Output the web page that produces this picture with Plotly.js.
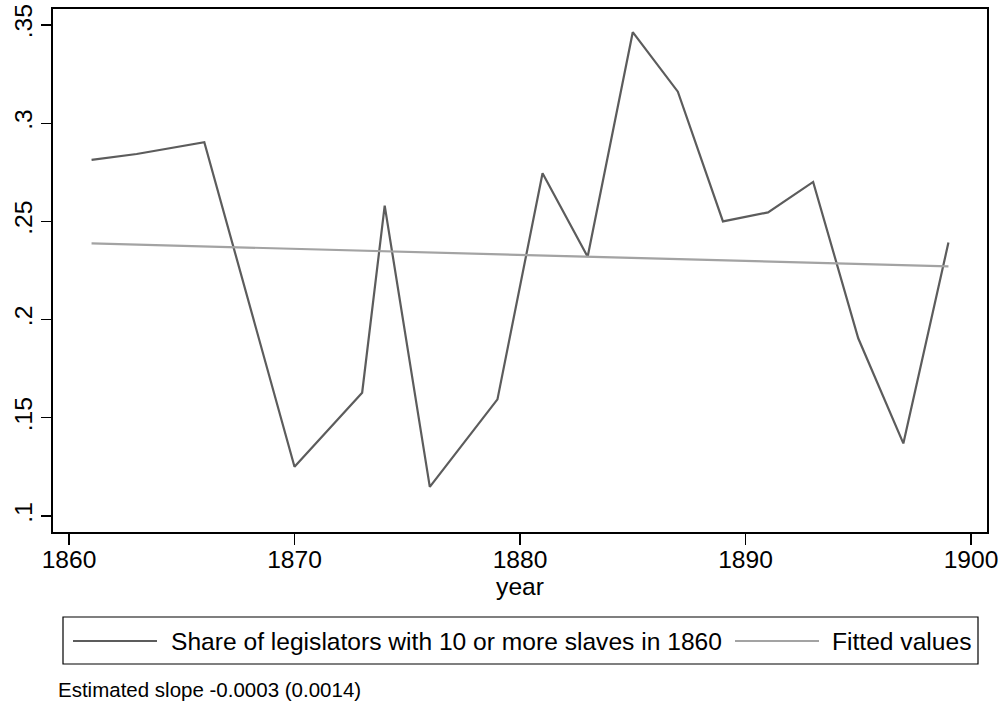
<!DOCTYPE html>
<html>
<head>
<meta charset="utf-8">
<script src="https://cdn.plot.ly/plotly-3.0.1.min.js"></script>
<style>html,body{margin:0;padding:0;background:#fff;}#chart{width:1005px;height:704px;}</style>
</head>
<body>
<div id="chart"></div>
<script>
const years = [1861, 1863, 1866, 1870, 1873, 1874, 1876, 1879, 1881, 1883, 1885, 1887, 1889, 1891, 1893, 1895, 1897, 1899];
const shareValues = [0.2813, 0.2843, 0.2903, 0.1251, 0.1628, 0.2580, 0.1149, 0.1594, 0.2745, 0.2320, 0.3463, 0.3160, 0.2500, 0.2546, 0.2701, 0.1905, 0.1370, 0.2392];
const fittedYears = [1861, 1899];
const fittedValues = [0.2388, 0.2271];
const yTickVals = [0.1, 0.15, 0.2, 0.25, 0.3, 0.35];
const yTickText = ['.1', '.15', '.2', '.25', '.3', '.35'];
const xTickVals = [1860, 1870, 1880, 1890, 1900];
const seriesNames = ['Share of legislators with 10 or more slaves in 1860', 'Fitted values'];
const noteText = 'Estimated slope -0.0003 (0.0014)';

const FONT = 'Liberation Sans, Arial, Helvetica, sans-serif';
const darkLine = '#5c5c5c';
const lightLine = '#a3a3a3';
const FS = 24.6;

const L = 53, R = 18, T = 9, B = 172;
const W = 1005, H = 704;
const pw = W - L - R, ph = H - T - B;
const px = x => (x - L) / pw;
const py = y => (H - B - y) / ph;

const traces = [
  {x: years, y: shareValues, type: 'scatter', mode: 'lines', name: seriesNames[0],
   line: {color: darkLine, width: 2.2}, showlegend: false, hoverinfo: 'x+y'},
  {x: fittedYears, y: fittedValues, type: 'scatter', mode: 'lines', name: seriesNames[1],
   line: {color: lightLine, width: 2.2}, showlegend: false, hoverinfo: 'x+y'}
];

const layout = {
  width: W, height: H,
  margin: {l: L, r: R, t: T, b: B},
  paper_bgcolor: '#ffffff', plot_bgcolor: '#ffffff',
  font: {family: FONT, color: '#000', size: FS},
  showlegend: false,
  xaxis: {
    range: [1859.29, 1900.71], tickvals: xTickVals, ticks: 'outside', ticklen: 11, tickwidth: 1.2,
    tickcolor: '#000', showgrid: false, zeroline: false, showline: true, linecolor: '#000',
    linewidth: 1.6, mirror: true, tickfont: {size: FS, family: FONT}, ticklabelstandoff: -6,
    title: {text: 'year', font: {size: FS, family: FONT}, standoff: 4}
  },
  yaxis: {
    range: [0.0919, 0.3581], tickvals: yTickVals, ticktext: yTickText, ticks: 'outside', ticklen: 10,
    tickwidth: 1.2, tickcolor: '#000', showgrid: false, zeroline: false, showline: true,
    linecolor: '#000', linewidth: 1.6, mirror: true, tickangle: -90,
    tickfont: {size: FS, family: FONT}
  },
  shapes: [
    {type: 'rect', xref: 'paper', yref: 'paper', x0: px(63), x1: px(978), y0: py(617), y1: py(664),
     line: {color: '#000', width: 1.2}, fillcolor: 'rgba(0,0,0,0)'},
    {type: 'line', xref: 'paper', yref: 'paper', x0: px(73), x1: px(157), y0: py(641), y1: py(641),
     line: {color: darkLine, width: 2.2}},
    {type: 'line', xref: 'paper', yref: 'paper', x0: px(735), x1: px(819), y0: py(641), y1: py(641),
     line: {color: lightLine, width: 2.2}}
  ],
  annotations: [
    {xref: 'paper', yref: 'paper', x: px(169), y: py(641), xanchor: 'left', yanchor: 'middle',
     text: seriesNames[0], showarrow: false, font: {size: FS, family: FONT, color: '#000'}},
    {xref: 'paper', yref: 'paper', x: px(830), y: py(641), xanchor: 'left', yanchor: 'middle',
     text: seriesNames[1], showarrow: false, font: {size: FS, family: FONT, color: '#000'}},
    {xref: 'paper', yref: 'paper', x: px(56), y: py(689), xanchor: 'left', yanchor: 'middle',
     text: noteText, showarrow: false, font: {size: 20.5, family: FONT, color: '#000'}}
  ]
};

Plotly.newPlot('chart', traces, layout, {displayModeBar: false, staticPlot: true});
</script>
</body>
</html>
